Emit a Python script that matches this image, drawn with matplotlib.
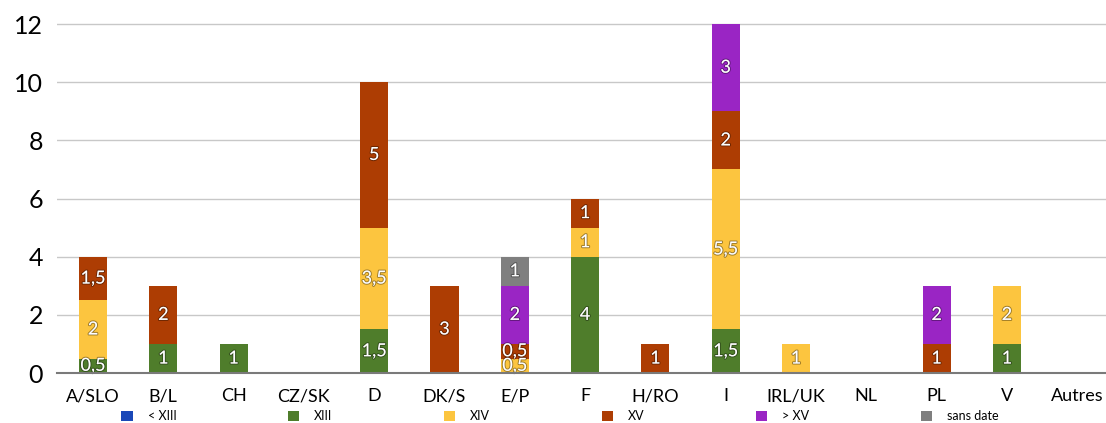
import numpy as np
import matplotlib
matplotlib.use("Agg")
import matplotlib.pyplot as plt
import matplotlib.patheffects as pe

plt.rcParams['font.family'] = ['Lato', 'DejaVu Sans']

# data
pays = ['A/SLO', 'B/L', 'CH', 'CZ/SK', 'D', 'DK/S', 'E/P', 'F', 'H/RO', 'I',
        'IRL/UK', 'NL', 'PL', 'V', 'Autres']
series = ['< XIII', 'XIII', 'XIV', 'XV', '> XV', 'sans date']
avant_13 = [0, 0, 0, 0, 0, 0, 0, 0, 0, 0, 0, 0, 0, 0, 0]
s13 = [0.5, 1, 1, 0, 1.5, 0, 0, 4, 0, 1.5, 0, 0, 0, 1, 0]
s14 = [2, 0, 0, 0, 3.5, 0, 0.5, 1, 0, 5.5, 1, 0, 0, 2, 0]
s15 = [1.5, 2, 0, 0, 5, 3, 0.5, 1, 1, 2, 0, 0, 1, 0, 0]
apres_15 = [0, 0, 0, 0, 0, 0, 2, 0, 0, 3, 0, 0, 2, 0, 0]
sans_date = [0, 0, 0, 0, 0, 0, 1, 0, 0, 0, 0, 0, 0, 0, 0]
couleurs = ['#1a48b8', '#4f7d2b', '#fcc53f', '#ad3d03', '#9a25c4', '#7f7f7f']

fig = plt.figure(figsize=(11.06, 4.23), dpi=100)
ax = fig.add_axes([57 / 1106, 0.118, 1 - 57 / 1106, 0.832])

x = np.arange(len(pays))
bas = np.zeros(len(pays))
for nom, vals, c in zip(series, [avant_13, s13, s14, s15, apres_15, sans_date], couleurs):
    vals = np.array(vals, dtype=float)
    ax.bar(x, vals, 0.4, bottom=bas, color=c, label=nom, zorder=3)
    for xi, b, v in zip(x, bas, vals):
        if v > 0:
            txt = ('%g' % v).replace('.', ',')
            ax.text(xi, b + v / 2, txt, ha='center', va='center', color='white',
                    fontsize=13, zorder=4,
                    path_effects=[pe.withStroke(linewidth=1.5, foreground=(0, 0, 0, 0.35))])
    bas += vals

ax.set_xlim(-0.512, 14.41)
ax.set_ylim(0, 12.1)
ax.set_yticks([0, 2, 4, 6, 8, 10, 12])
ax.set_xticks(x)
ax.set_xticklabels(pays, fontsize=13)
ax.tick_params(axis='y', labelsize=18, length=0, pad=10)
ax.tick_params(axis='x', length=0, pad=11)
ax.grid(axis='y', color='#c8c8c8', linewidth=1, zorder=0)
for s in ['top', 'right', 'left']:
    ax.spines[s].set_visible(False)
ax.spines['bottom'].set_color('#7a7a7a')
ax.spines['bottom'].set_linewidth(1.5)
ax.spines['bottom'].set_zorder(5)

fig.legend(loc='lower left', bbox_to_anchor=(110 / 1106, -0.025, 900 / 1106, 0.05),
           mode='expand', ncol=6, frameon=False, fontsize=9,
           handlelength=0.9, handleheight=0.9, handletextpad=1.2)

fig.savefig('out.png', dpi=100)
